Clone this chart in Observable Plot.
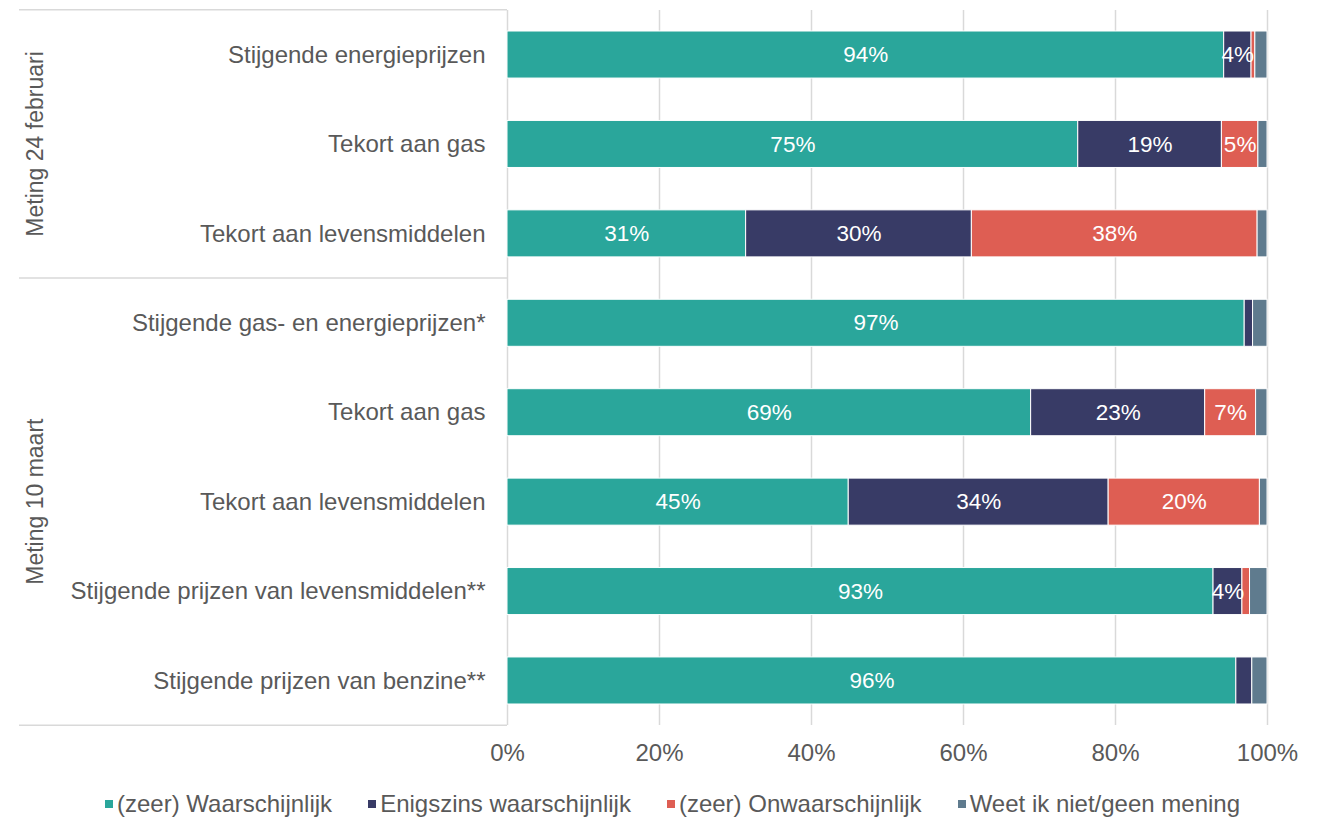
<!DOCTYPE html>
<html>
<head>
<meta charset="utf-8">
<script src="https://cdn.jsdelivr.net/npm/d3@7"></script>
<script src="https://cdn.jsdelivr.net/npm/@observablehq/plot@0.6"></script>
<style>
  body { margin: 0; background: #fff; font-family: "Liberation Sans", Arial, sans-serif; }
  #chart svg { display: block; }
  .legend { display: flex; justify-content: center; align-items: center; gap: 36px; height: 32px; margin-top: 18px; margin-left: 26px;
            font-family: "Liberation Sans", Arial, sans-serif; font-size: 24px; color: #595959; }
  .legend .item { display: flex; align-items: center; gap: 4px; }
  .legend .sw { width: 8px; height: 8px; display: inline-block; }
</style>
</head>
<body>
<div id="chart"></div>
<script>
// ---- data ----
const groups = ["Meting 24 februari", "Meting 10 maart"];
const categories = [
  "Stijgende energieprijzen",
  "Tekort aan gas",
  "Tekort aan levensmiddelen",
  "Stijgende gas- en energieprijzen*",
  "Tekort aan gas",
  "Tekort aan levensmiddelen",
  "Stijgende prijzen van levensmiddelen**",
  "Stijgende prijzen van benzine**"
];
const categoryGroup = [0, 0, 0, 1, 1, 1, 1, 1];
const seriesNames = ["(zeer) Waarschijnlijk", "Enigszins waarschijnlijk", "(zeer) Onwaarschijnlijk", "Weet ik niet/geen mening"];
const seriesColors = ["#2aa69b", "#383b66", "#de5e53", "#5f7b8e"];
const waarschijnlijk   = [94.3, 75.1, 31.4, 97.0, 68.9, 44.9, 92.9, 95.9];
const enigszins        = [3.6, 18.9, 29.7, 1.1, 22.9, 34.2, 3.8, 2.1];
const onwaarschijnlijk = [0.5, 4.8, 37.6, 0.0, 6.7, 19.9, 1.0, 0.0];
const weetNiet         = [1.6, 1.2, 1.3, 1.9, 1.5, 1.0, 2.3, 2.0];
const xTicks = [0, 20, 40, 60, 80, 100];

// ---- build table ----
const keys = categories.map((_, i) => String(i));
const seriesValues = [waarschijnlijk, enigszins, onwaarschijnlijk, weetNiet];
const data = [];
keys.forEach((k, i) => {
  seriesValues.forEach((vals, s) => {
    data.push({key: k, series: seriesNames[s], value: vals[i]});
  });
});

const textColor = "#595959";
const gridColor = "#d9d9d9";
const fontFam = "'Liberation Sans', Arial, sans-serif";

// separators + group labels drawn from the y scale
function groupDecor(index, scales, values, dimensions) {
  const y = scales.y;
  let bw = typeof y.bandwidth === "function" ? y.bandwidth() : y.bandwidth;
  const step = y(keys[1]) - y(keys[0]);
  if (!(bw >= 0)) bw = 0;
  const half = (step - bw) / 2;
  const g = d3.create("svg:g");
  const x0 = scales.x(0);
  const left = 19;
  const bounds = [];
  groups.forEach((name, gi) => {
    const idx = categoryGroup.map((c, i) => c === gi ? i : -1).filter(i => i >= 0);
    const top = y(keys[idx[0]]) - half;
    const bottom = y(keys[idx[idx.length - 1]]) + bw + half;
    bounds.push(top, bottom);
    g.append("text")
      .attr("transform", `translate(${left + 16},${(top + bottom) / 2}) rotate(-90)`)
      .attr("text-anchor", "middle")
      .attr("dominant-baseline", "central")
      .attr("fill", textColor)
      .attr("font-family", fontFam)
      .attr("font-size", 23)
      .text(name);
  });
  [...new Set(bounds.map(b => Math.round(b * 10) / 10))].forEach(b => {
    g.append("line")
      .attr("x1", left).attr("x2", x0)
      .attr("y1", b).attr("y2", b)
      .attr("stroke", gridColor).attr("stroke-width", 1.5);
  });
  return g.node();
}

const chart = Plot.plot({
  width: 1319,
  height: 770,
  marginLeft: 507,
  marginRight: 52,
  marginTop: 10,
  marginBottom: 45,
  style: {fontFamily: fontFam, fontSize: "24px", color: textColor, background: "#fff"},
  x: {domain: [0, 100], ticks: xTicks, tickFormat: d => d + "%", label: null},
  y: {domain: keys, paddingInner: 0.474, paddingOuter: 0.235, round: false, label: null},
  color: {domain: seriesNames, range: seriesColors},
  marks: [
    Plot.ruleX(xTicks, {x: d => d, stroke: gridColor, strokeWidth: 1.5}),
    Plot.barX(data, Plot.stackX({x: "value", y: "key", fill: "series", stroke: "white", strokeWidth: 1, order: null})),
    Plot.textX(data, Plot.stackX({
      x: "value", y: "key", z: "series", order: null,
      text: d => d.value >= 3 ? Math.round(d.value) + "%" : "",
      fill: "white", fontSize: 22.5
    })),
    Plot.axisX({ticks: xTicks, tickFormat: d => d + "%", tickSize: 0, tickPadding: 18, fontSize: 24, fill: textColor}),
    Plot.axisY({tickFormat: k => categories[+k], tickSize: 0, tickPadding: 22, fontSize: 24, fill: textColor}),
    groupDecor
  ]
});
document.getElementById("chart").appendChild(chart);

// legend
const legend = document.createElement("div");
legend.className = "legend";
seriesNames.forEach((name, i) => {
  const item = document.createElement("span");
  item.className = "item";
  const sw = document.createElement("span");
  sw.className = "sw";
  sw.style.background = seriesColors[i];
  const label = document.createElement("span");
  label.textContent = name;
  item.appendChild(sw);
  item.appendChild(label);
  legend.appendChild(item);
});
document.body.appendChild(legend);
</script>
</body>
</html>
